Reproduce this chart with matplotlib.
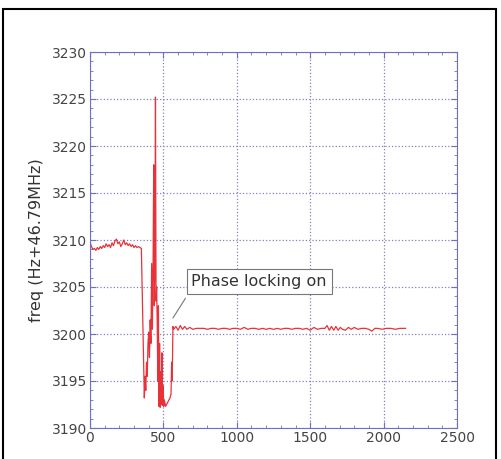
import matplotlib.pyplot as plt
from matplotlib.patches import Rectangle
from matplotlib.ticker import MultipleLocator

# frequency trace (time axis, freq offset)
t_before = [0, 10, 20, 30, 40, 50, 60, 70, 80, 90, 100, 110, 120, 130, 140,
            150, 160, 170, 180, 190, 200, 210, 220, 230, 240, 250, 260, 270,
            280, 290, 300, 310, 320, 330, 340, 350]
f_before = [3209.8, 3209.3, 3209.0, 3209.1, 3208.9, 3209.2, 3209.0, 3209.3,
            3209.1, 3209.4, 3209.2, 3209.6, 3209.3, 3209.5, 3209.2, 3209.7,
            3209.4, 3209.9, 3210.1, 3209.6, 3209.8, 3209.3, 3209.6, 3210.0,
            3209.5, 3209.7, 3209.4, 3209.6, 3209.3, 3209.5, 3209.2, 3209.4,
            3209.2, 3209.3, 3209.2, 3209.1]

t_transient = [355, 362, 370, 375, 380, 385, 390, 395, 400, 405, 410, 415,
               420, 425, 430, 434, 438, 442, 446, 450, 454, 458, 462, 466,
               470, 474, 478, 482, 486, 490, 494, 498, 502, 506, 515, 525,
               535, 545, 552, 556, 560, 565]
f_transient = [3205.0, 3199.0, 3193.2, 3195.5, 3194.0, 3197.0, 3195.5,
               3199.0, 3200.2, 3197.5, 3201.5, 3199.0, 3207.5, 3200.5,
               3208.0, 3218.0, 3203.0, 3207.0, 3225.2, 3203.5, 3205.0,
               3201.0, 3195.0, 3203.0, 3192.3, 3199.0, 3192.2, 3196.0,
               3192.5, 3198.0, 3192.4, 3194.5, 3192.3, 3193.0, 3192.3,
               3192.6, 3192.9, 3193.2, 3193.6, 3197.0, 3195.0, 3200.8]

t_locked = [570, 585, 600, 615, 630, 645, 660, 680, 700, 725, 750, 775, 800,
            825, 850, 875, 900, 925, 950, 975, 1000, 1025, 1050, 1075, 1100,
            1125, 1150, 1175, 1200, 1225, 1250, 1275, 1300, 1325, 1350,
            1375, 1400, 1425, 1450, 1475, 1500, 1525, 1550, 1575, 1600,
            1615, 1630, 1645, 1660, 1675, 1690, 1705, 1720, 1740, 1760,
            1780, 1800, 1825, 1850, 1875, 1900, 1920, 1940, 1960, 1990,
            2020, 2050, 2080, 2110, 2150]
f_locked = [3200.5, 3200.8, 3200.4, 3200.9, 3200.5, 3200.8, 3200.5, 3200.7,
            3200.5, 3200.6, 3200.6, 3200.6, 3200.5, 3200.6, 3200.6, 3200.5,
            3200.6, 3200.6, 3200.5, 3200.6, 3200.6, 3200.5, 3200.7, 3200.5,
            3200.6, 3200.6, 3200.5, 3200.6, 3200.5, 3200.6, 3200.5, 3200.6,
            3200.5, 3200.6, 3200.6, 3200.5, 3200.6, 3200.6, 3200.5, 3200.6,
            3200.4, 3200.7, 3200.5, 3200.6, 3200.6, 3200.9, 3200.4, 3200.8,
            3200.4, 3200.8, 3200.4, 3200.7, 3200.5, 3200.4, 3200.7, 3200.5,
            3200.7, 3200.5, 3200.6, 3200.6, 3200.5, 3200.3, 3200.6, 3200.6,
            3200.5, 3200.6, 3200.6, 3200.5, 3200.6, 3200.6]

t = t_before + t_transient + t_locked
f = f_before + f_transient + f_locked

fig = plt.figure(figsize=(5.01, 4.59), dpi=100)
ax = fig.add_axes([90 / 501, 1 - 428 / 459, 367 / 501, 376 / 459])

ax.plot(t, f, color="#e8323a", lw=0.9)

ax.set_xlim(0, 2500)
ax.set_ylim(3190, 3230)
ax.xaxis.set_major_locator(MultipleLocator(500))
ax.xaxis.set_minor_locator(MultipleLocator(100))
ax.yaxis.set_major_locator(MultipleLocator(5))
ax.yaxis.set_minor_locator(MultipleLocator(1))
ax.tick_params(which="both", direction="in", top=True, right=True,
               colors="#7070c0", labelcolor="#444444", labelsize=10)
ax.tick_params(which="major", length=4, pad=2)
ax.tick_params(which="minor", length=2)
for s in ax.spines.values():
    s.set_color("#7070c0")
ax.grid(True, which="major", color="#8080c8", ls=":", lw=0.9)

ax.set_ylabel("freq (Hz+46.79MHz)", fontsize=11.5, color="#333333", labelpad=6)

# callout
ax.text(690, 3205.6, "Phase locking on", fontsize=11.5, color="#333333",
        va="center", ha="left",
        bbox=dict(boxstyle="square,pad=0.3", fc="white", ec="#777777", lw=0.8))
ax.annotate("", xy=(565, 3201.7), xytext=(650, 3203.8),
            arrowprops=dict(arrowstyle="-", color="#777777", lw=0.8,
                            shrinkA=0, shrinkB=0))

# black frame around the figure
fig.patches.append(Rectangle((3 / 501, -0.05), 493 / 501, 1.05 - 9 / 459,
                             transform=fig.transFigure, fill=False,
                             ec="black", lw=1.5))

fig.savefig("out.png", dpi=100)
